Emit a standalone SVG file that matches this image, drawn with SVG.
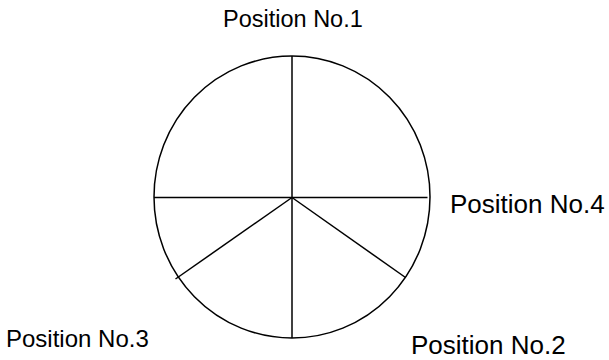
<svg xmlns="http://www.w3.org/2000/svg" width="609" height="360" viewBox="0 0 609 360">
<style>
.ln{stroke:#000;stroke-width:1.5;fill:none}
.lbl{font-family:"Liberation Sans",Arial,sans-serif;font-size:25px;fill:#000}
</style>
<rect width="609" height="360" fill="#fff"/>
<g id="wheel">
<ellipse class="ln" cx="292" cy="197" rx="138" ry="141"/>
</g>
<g id="connectors">
<line class="ln" x1="292" y1="56" x2="292" y2="338"/>
<line class="ln" x1="154" y1="197.5" x2="427.5" y2="197.5"/>
<line class="ln" x1="292" y1="197.5" x2="175.5" y2="279"/>
<line class="ln" x1="292" y1="197.5" x2="405.5" y2="277.5"/>
</g>
<g id="pos1"><text class="lbl" x="223" y="27" style="font-size:23.5px">Position No.1</text></g>
<g id="pos4"><text class="lbl" x="450" y="213" style="font-size:26px">Position No.4</text></g>
<g id="pos3"><text class="lbl" x="6" y="347" style="font-size:24px">Position No.3</text></g>
<g id="pos2"><text class="lbl" x="411" y="354" style="font-size:26px">Position No.2</text></g>
</svg>
